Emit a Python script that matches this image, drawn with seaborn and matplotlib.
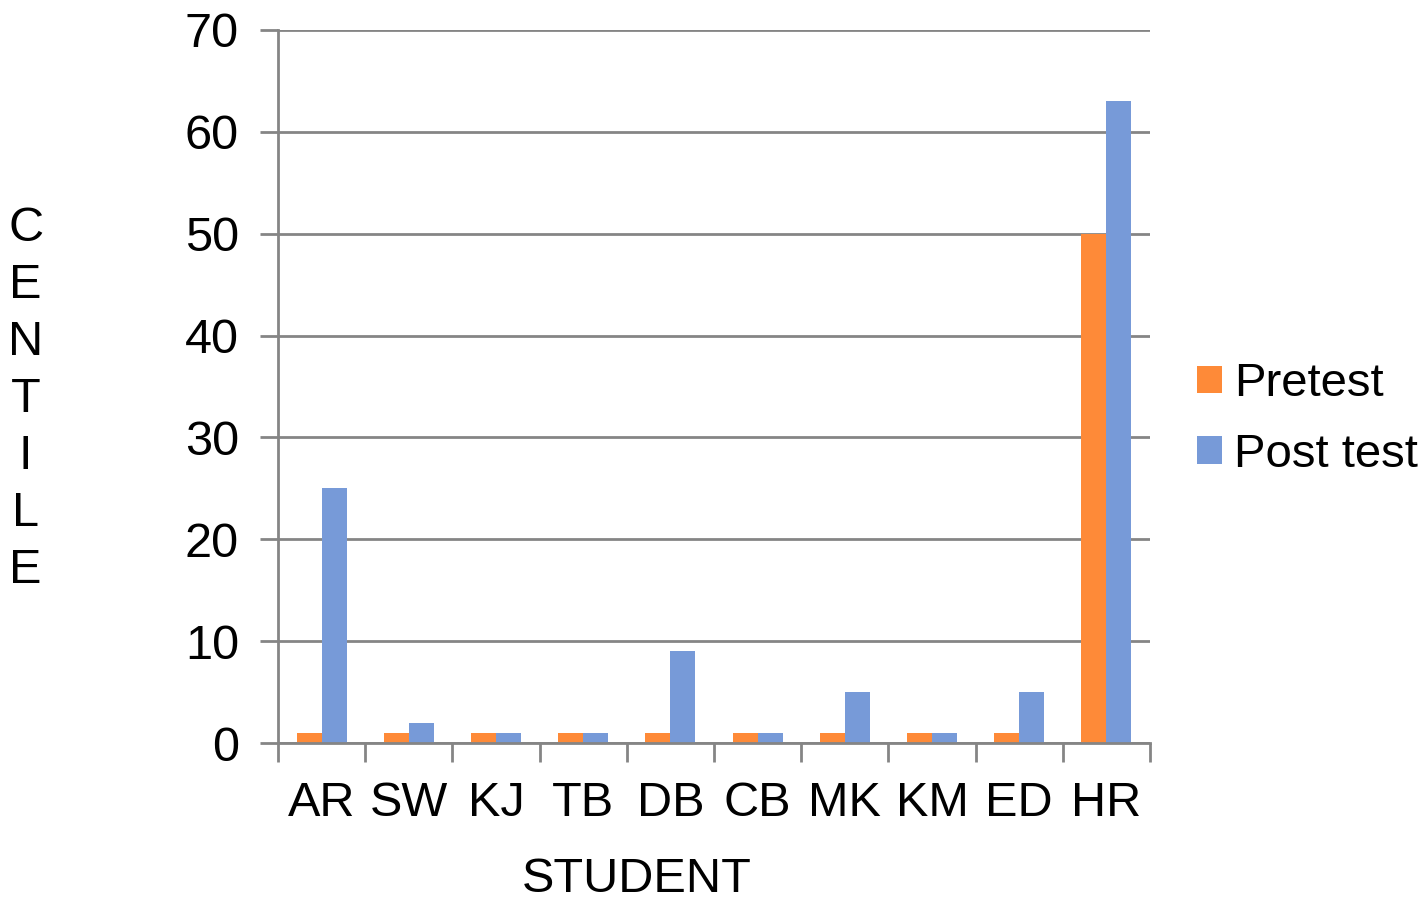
import matplotlib
matplotlib.use("Agg")
import matplotlib.pyplot as plt
import seaborn as sns
import pandas as pd
import numpy as np
from matplotlib.ticker import FixedLocator

students = ["AR", "SW", "KJ", "TB", "DB", "CB", "MK", "KM", "ED", "HR"]
pretest = [1, 1, 1, 1, 1, 1, 1, 1, 1, 50]
post_test = [25, 2, 1, 1, 9, 1, 5, 1, 5, 63]
series_names = ["Pretest", "Post test"]
colors = ["#FE8A38", "#779AD8"]

df = pd.DataFrame({
    "Student": students * 2,
    "Centile": pretest + post_test,
    "Test": [series_names[0]] * len(students) + [series_names[1]] * len(students),
})

sns.set_style("white")
plt.rcParams["font.family"] = ["Liberation Sans", "DejaVu Sans"]
plt.rcParams["text.color"] = "black"

FS = 35
fig = plt.figure(figsize=(14.27, 9.0), dpi=100)
ax = fig.add_axes([0.1948, 0.1744, 0.8059 - 0.1948, 0.9667 - 0.1744])

sns.barplot(data=df, x="Student", y="Centile", hue="Test", order=students,
            hue_order=series_names, palette=colors, width=0.575,
            saturation=1, linewidth=0, ax=ax, legend=True)

grid_col = "#858585"
ax.set_ylim(0, 70)
ax.set_xlim(-0.5, len(students) - 0.5)
ax.set_yticks(range(0, 71, 10))
ax.yaxis.grid(True, color=grid_col, linewidth=2)
ax.set_axisbelow(True)
for s in ["top", "right"]:
    ax.spines[s].set_visible(False)
for s in ["left", "bottom"]:
    ax.spines[s].set_color(grid_col)
    ax.spines[s].set_linewidth(2)

ax.tick_params(axis="y", which="major", left=True, length=13, width=2,
               color=grid_col, labelsize=FS, labelcolor="black", pad=15)
ax.tick_params(axis="x", which="major", bottom=False, labelsize=FS,
               labelcolor="black", pad=24)
ax.xaxis.set_minor_locator(FixedLocator(np.arange(-0.5, len(students), 1.0)))
ax.tick_params(axis="x", which="minor", bottom=True, length=14, width=2,
               color=grid_col)
ax.set_xlabel("")
ax.set_ylabel("")

fig.text(0.446, 1 - 879 / 900, "STUDENT", fontsize=FS, ha="center",
         va="center")
fig.text(0.018, 0.556, "\n".join("CENTILE"), fontsize=FS, ha="center",
         va="center", linespacing=1.34)

handles, labels = ax.get_legend_handles_labels()
ax.legend(handles, labels, loc="center left", bbox_to_anchor=(0.8388, 0.534),
          bbox_transform=fig.transFigure, borderaxespad=0, borderpad=0,
          frameon=False, fontsize=34, handlelength=0.52, handleheight=0.52,
          handletextpad=0.27, labelspacing=0.56)

fig.savefig("out.png", dpi=100)
